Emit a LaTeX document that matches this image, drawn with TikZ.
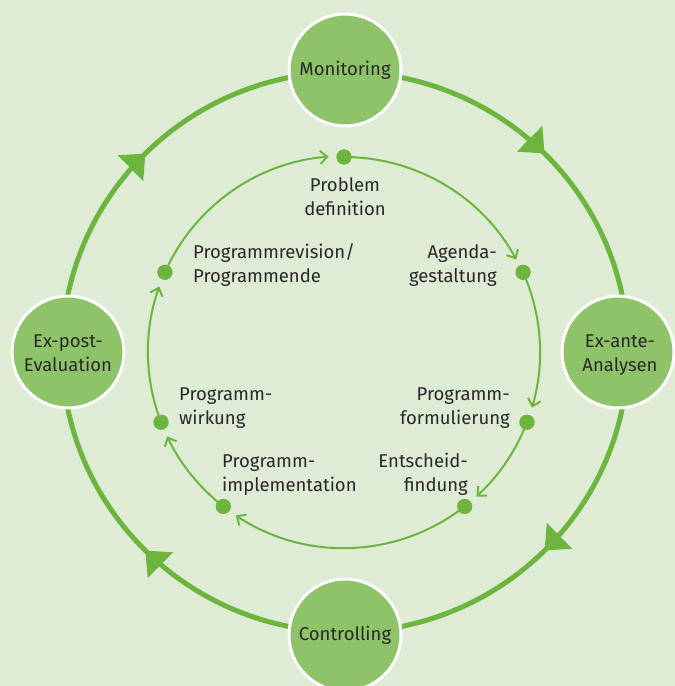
\documentclass[tikz,border=0pt]{standalone}
\usepackage{fontspec}
\setmainfont{Fira Sans}
\usetikzlibrary{arrows.meta,decorations.markings}
\definecolor{bg}{RGB}{222,235,213}
\definecolor{nodefill}{RGB}{143,195,106}
\definecolor{ringc}{RGB}{110,181,64}
\definecolor{txt}{RGB}{40,40,40}
\begin{document}
\begin{tikzpicture}[x=1pt,y=-1pt,
  font=\fontsize{18.5}{24}\selectfont, text=txt,
  stage/.style={circle, fill=nodefill, draw=white, line width=3pt, minimum size=112pt, inner sep=0pt, align=center},
  dot/.style={circle, fill=ringc, minimum size=15pt, inner sep=0pt},
  outerring/.style={draw=ringc, line width=5pt,
    decoration={markings, mark=at position 0.5 with {\arrow[ringc]{Triangle[length=21pt,width=35pt]}}},
    postaction={decorate}},
  cyc/.style={draw=ringc, line width=2pt, -{Straight Barb[length=7pt,width=13pt]}},
  lab/.style={inner sep=0pt}
]
\fill[bg] (0,0) rectangle (675,686);
\useasboundingbox (0,0) rectangle (675,686);
\coordinate (O) at (345,352);
\coordinate (I) at (344,352);

% outer cycle
\draw[outerring] ([shift={(-90:283 and 280)}]O) arc[start angle=-90, end angle=0, x radius=283, y radius=280];
\draw[outerring] ([shift={(0:283 and 280)}]O) arc[start angle=0, end angle=90, x radius=283, y radius=280];
\draw[outerring] ([shift={(90:283 and 280)}]O) arc[start angle=90, end angle=180, x radius=283, y radius=280];
\draw[outerring] ([shift={(180:283 and 280)}]O) arc[start angle=180, end angle=270, x radius=283, y radius=280];

% inner dots
\node[dot] (dP) at ([shift={(-90:195)}]I) {};
\node[dot] (dA) at ([shift={(-24:196)}]I) {};
\node[dot] (dF) at ([shift={(21:196)}]I) {};
\node[dot] (dE) at ([shift={(52:196)}]I) {};
\node[dot] (dI) at ([shift={(128:196)}]I) {};
\node[dot] (dW) at ([shift={(159:196)}]I) {};
\node[dot] (dR) at ([shift={(204:196)}]I) {};

% inner cycle
\draw[cyc] (dP.center) arc[start angle=-90, end angle=-28.5, radius=196];
\draw[cyc] (dA.center) arc[start angle=-24, end angle=16.5, radius=196];
\draw[cyc] (dF.center) arc[start angle=21, end angle=47.5, radius=196];
\draw[cyc] (dE.center) arc[start angle=52, end angle=123.5, radius=196];
\draw[cyc] (dI.center) arc[start angle=128, end angle=154.5, radius=196];
\draw[cyc] (dW.center) arc[start angle=159, end angle=199.5, radius=196];
\draw[cyc] (dR.center) arc[start angle=204, end angle=265.5, radius=196];

% redraw dots on top
\foreach \n in {dP,dA,dF,dE,dI,dW,dR} \fill[ringc] (\n.center) circle[radius=7.5pt];

% labels (base anchor = baseline of the last line)
\node[lab, anchor=base, align=center] (tP) at (345,215) {Problem\\definition};
\node[lab, anchor=base east, align=right] (tA) at (497,282) {Agenda-\\gestaltung};
\node[lab, anchor=base east, align=right] (tF) at (510,424) {Programm-\\formulierung};
\node[lab, anchor=base east, align=right] (tE) at (468,491) {Entscheid-\\findung};
\node[lab, anchor=base west, align=left] (tI) at (222,491) {Programm-\\implementation};
\node[lab, anchor=base west, align=left] (tW) at (179,424) {Programm-\\wirkung};
\node[lab, anchor=base west, align=left] (tR) at (193,282) {Programmrevision/\\Programmende};

% stage nodes
\node[stage] (mon) at (345,70) {Monitoring};
\node[stage] (exa) at (618,352) {};
\node[stage] (con) at (345,635) {Controlling};
\node[stage] (exp) at (68,352) {};
\node[lab, anchor=base, align=center] (exat) at (620,371) {Ex-ante-\\Analysen};
\node[lab, anchor=base, align=center] (expt) at (68,371) {Ex-post-\\Evaluation};
\end{tikzpicture}
\end{document}
